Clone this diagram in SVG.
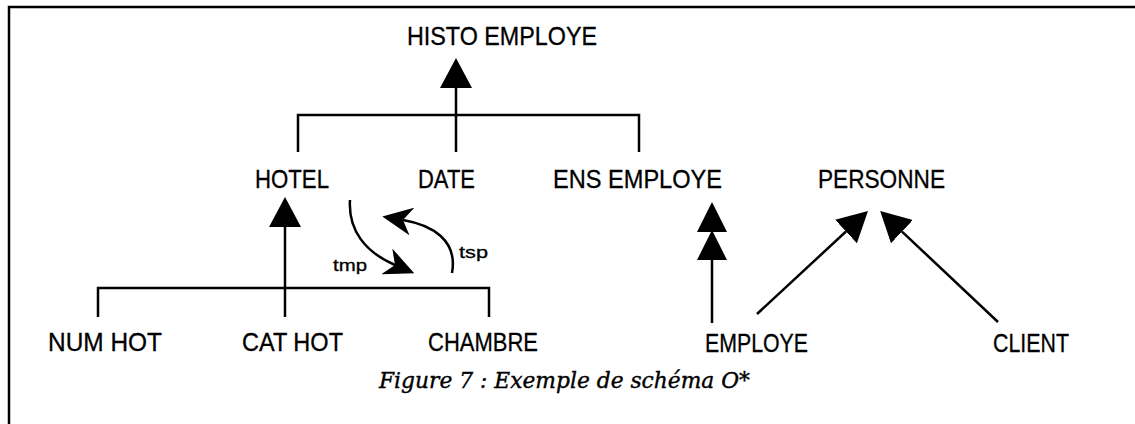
<svg xmlns="http://www.w3.org/2000/svg" width="1135" height="424" viewBox="0 0 1135 424">
<style>
.lbl{font-family:"Liberation Sans",Arial,sans-serif;font-size:25px;fill:#000;stroke:#000;stroke-width:0.3}
.sm{font-family:"Liberation Sans",Arial,sans-serif;font-size:17px;fill:#000;stroke:#000;stroke-width:0.3}
.cap{font-family:"DejaVu Serif","Liberation Serif",serif;font-style:italic;font-size:22px;fill:#000;stroke:#000;stroke-width:0.4}
.ln{fill:none;stroke:#000;stroke-width:2.5}
.frame{fill:none;stroke:#000;stroke-width:2.5}
</style>
<defs>
<marker id="tri" viewBox="0 0 30 32" refX="0" refY="16" markerWidth="30" markerHeight="32" markerUnits="userSpaceOnUse" orient="auto">
<path d="M0,0 L30,16 L0,32 z" fill="#000"/>
</marker>
<marker id="dbl" viewBox="0 0 58 30" refX="0" refY="15" markerWidth="58" markerHeight="30" markerUnits="userSpaceOnUse" orient="auto">
<path d="M0,0 L30,15 L0,30 z M28,0 L58,15 L28,30 z" fill="#000"/>
</marker>
<marker id="barb" viewBox="0 0 30 28" refX="9" refY="14" markerWidth="30" markerHeight="28" markerUnits="userSpaceOnUse" orient="auto">
<path d="M0,0 L30,14 L0,28 L9,14 z" fill="#000"/>
</marker>
</defs>
<path class="frame" d="M9,424 L9,7 L1135,7"/>
<g id="connectors">
<path class="ln" d="M298,152 L298,115 L639,115 L639,152"/>
<path class="ln" d="M456,152 L456,88" marker-end="url(#tri)"/>
<path class="ln" d="M98,317 L98,288 L489,288 L489,317"/>
<path class="ln" d="M285,317 L285,227" marker-end="url(#tri)"/>
<path class="ln" d="M712,323 L712,260" marker-end="url(#dbl)"/>
<path class="ln" d="M757,314 L846,231.5" marker-end="url(#tri)"/>
<path class="ln" d="M998,322 L902,231.6" marker-end="url(#tri)"/>
<path class="ln" d="M350,200 C348,230 365,252 395,265" marker-end="url(#barb)"/>
<path class="ln" d="M452,273 C458,240 432,225 403,220" marker-end="url(#barb)"/>
<text class="sm" x="333" y="271" textLength="34" lengthAdjust="spacingAndGlyphs">tmp</text>
<text class="sm" x="459" y="258" textLength="29" lengthAdjust="spacingAndGlyphs">tsp</text>
</g>
<g id="histo_employe"><text class="lbl" x="407" y="45" textLength="190" lengthAdjust="spacingAndGlyphs">HISTO EMPLOYE</text></g>
<g id="hotel"><text class="lbl" x="255" y="188" textLength="74" lengthAdjust="spacingAndGlyphs">HOTEL</text></g>
<g id="date"><text class="lbl" x="418" y="188" textLength="57" lengthAdjust="spacingAndGlyphs">DATE</text></g>
<g id="ens_employe"><text class="lbl" x="553" y="188" textLength="169" lengthAdjust="spacingAndGlyphs">ENS EMPLOYE</text></g>
<g id="personne"><text class="lbl" x="818" y="188" textLength="127" lengthAdjust="spacingAndGlyphs">PERSONNE</text></g>
<g id="num_hot"><text class="lbl" x="48" y="351" textLength="114" lengthAdjust="spacingAndGlyphs">NUM HOT</text></g>
<g id="cat_hot"><text class="lbl" x="242" y="351" textLength="101" lengthAdjust="spacingAndGlyphs">CAT HOT</text></g>
<g id="chambre"><text class="lbl" x="428" y="351" textLength="110" lengthAdjust="spacingAndGlyphs">CHAMBRE</text></g>
<g id="employe"><text class="lbl" x="705" y="352" textLength="103" lengthAdjust="spacingAndGlyphs">EMPLOYE</text></g>
<g id="client"><text class="lbl" x="993" y="352" textLength="76" lengthAdjust="spacingAndGlyphs">CLIENT</text></g>
<text class="cap" x="379" y="388" textLength="371" lengthAdjust="spacingAndGlyphs">Figure 7 : Exemple de schéma O*</text>
</svg>
